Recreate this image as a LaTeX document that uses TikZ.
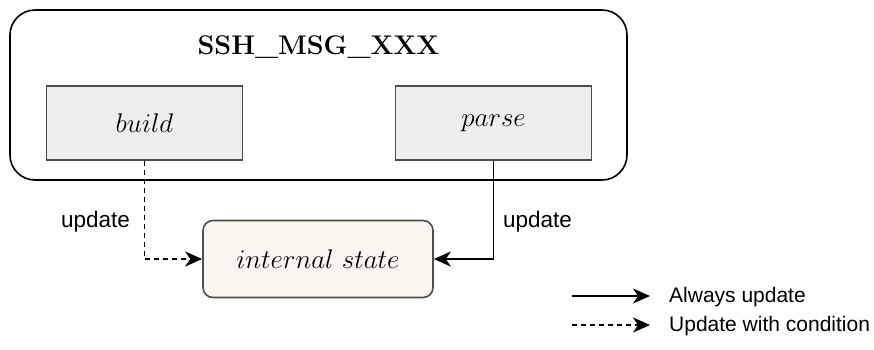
\RequirePackage{fix-cm}
\documentclass[tikz,border=0pt]{standalone}
\usepackage{fontspec}
\newfontfamily\lsans{Liberation Sans}
\usetikzlibrary{arrows.meta}
\definecolor{boxgray}{HTML}{EEEEEE}
\definecolor{edgegray}{HTML}{4D4D4D}
\definecolor{statefill}{HTML}{F8F6EE}

\tikzstyle{frame} = [draw, rounded corners=25pt, line width=1.6pt, minimum width=617pt, minimum height=170pt]
\tikzstyle{fn} = [draw=edgegray, fill=boxgray, line width=1.6pt, minimum width=196pt, minimum height=74pt, font=\fontsize{27}{32}\selectfont]
\tikzstyle{st} = [draw=edgegray, fill=statefill, rounded corners=10pt, line width=1.6pt, minimum width=230pt, minimum height=77pt, font=\fontsize{27}{32}\selectfont]
\tikzstyle{lbl} = [font=\lsans\fontsize{22.5}{26}\selectfont, inner sep=0pt]
\tikzstyle{key} = [font=\lsans\fontsize{21}{25}\selectfont, inner sep=0pt, anchor=west]
\tikzstyle{upd} = [line width=1.8pt, -{Stealth[length=17pt, width=15pt, inset=5pt]}]
\tikzstyle{cond} = [upd, dash pattern=on 5pt off 4pt]

\begin{document}
\begin{tikzpicture}[x=1pt, y=-1pt]
    \useasboundingbox (0, 0) rectangle (874, 349);
    \node[frame] (MSG) at (318.5, 95) {};
    \node[font=\bfseries\fontsize{27}{32}\selectfont] (TTL) at (318.5, 47) {SSH\_MSG\_XXX};
    \node[fn] (BLD) at (144.5, 123) {$build$};
    \node[fn] (PRS) at (493.5, 123) {$parse$};
    \node[st] (ST) at (318, 259) {$internal\ state$};
    \node[lbl] (U1) at (95.5, 222) {update};
    \node[lbl] (U2) at (537.5, 222) {update};
    \draw[cond] (BLD.south) |- (ST.west);
    \draw[upd] (PRS.south) |- (ST.east);
    % legend
    \coordinate (A1) at (572, 296);
    \coordinate (A2) at (650, 296);
    \coordinate (B1) at (572, 325);
    \coordinate (B2) at (650, 325);
    \node[key] (T1) at (669, 297) {Always update};
    \node[key] (T2) at (669, 326) {Update with condition};
    \draw[upd] (A1) -- (A2);
    \draw[cond] (B1) -- (B2);
  \end{tikzpicture}
\end{document}
